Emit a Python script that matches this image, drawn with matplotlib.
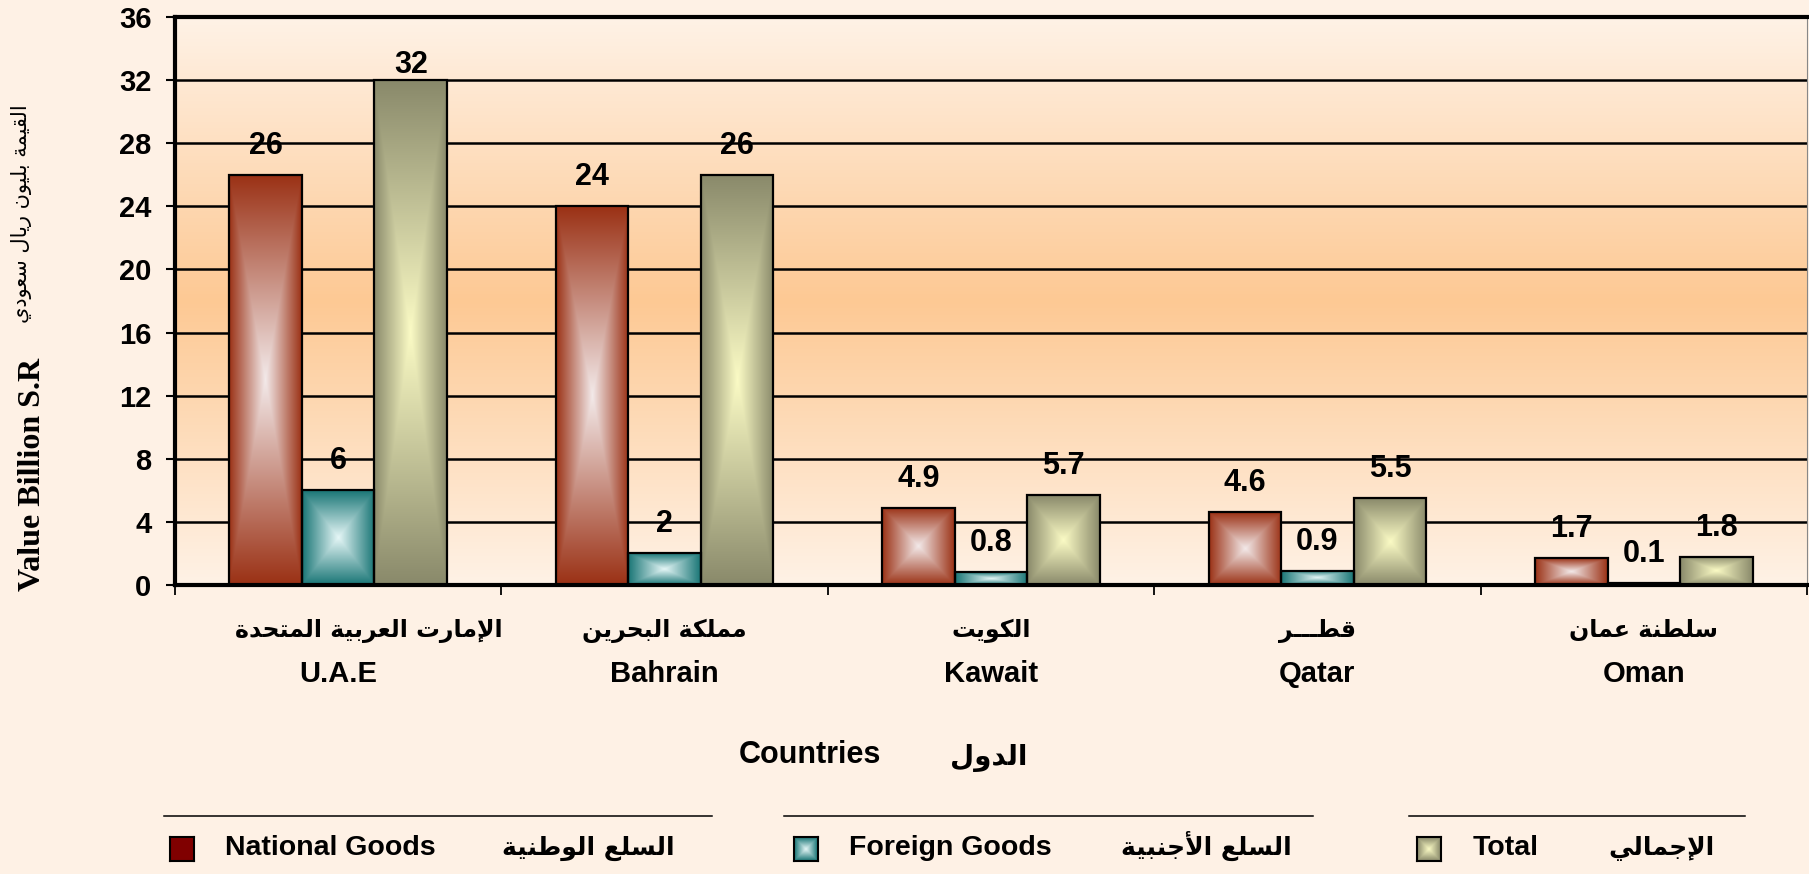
import numpy as np
import matplotlib
matplotlib.use("Agg")
import matplotlib.pyplot as plt
import matplotlib.transforms as mtransforms

# ---------------- data ----------------
categories_en = ['U.A.E', 'Bahrain', 'Kawait', 'Qatar', 'Oman']
categories_ar = ['الإمارت العربية المتحدة', 'مملكة البحرين', 'الكويت', 'قطـــر', 'سلطنة عمان']
national = [26, 24, 4.9, 4.6, 1.7]
foreign = [6, 2, 0.8, 0.9, 0.1]
total = [32, 26, 5.7, 5.5, 1.8]
series_en = ['National Goods', 'Foreign Goods', 'Total']
series_ar = ['السلع الوطنية', 'السلع الأجنبية', 'الإجمالي']
y_ticks = [0, 4, 8, 12, 16, 20, 24, 28, 32, 36]
ylabel_en = 'Value Billion S.R'
ylabel_ar = 'القيمة بليون ريال سعودي'
xlabel_en = 'Countries'
xlabel_ar = 'الدول'

# ---------------- minimal Arabic shaping ----------------
FORMS = {
    '\u0627': ('\uFE8D', '\uFE8E', None, None),
    '\u0623': ('\uFE83', '\uFE84', None, None),
    '\u0625': ('\uFE87', '\uFE88', None, None),
    '\u0628': ('\uFE8F', '\uFE90', '\uFE91', '\uFE92'),
    '\u0629': ('\uFE93', '\uFE94', None, None),
    '\u062A': ('\uFE95', '\uFE96', '\uFE97', '\uFE98'),
    '\u062C': ('\uFE9D', '\uFE9E', '\uFE9F', '\uFEA0'),
    '\u062D': ('\uFEA1', '\uFEA2', '\uFEA3', '\uFEA4'),
    '\u062F': ('\uFEA9', '\uFEAA', None, None),
    '\u0631': ('\uFEAD', '\uFEAE', None, None),
    '\u0633': ('\uFEB1', '\uFEB2', '\uFEB3', '\uFEB4'),
    '\u0637': ('\uFEC1', '\uFEC2', '\uFEC3', '\uFEC4'),
    '\u0639': ('\uFEC9', '\uFECA', '\uFECB', '\uFECC'),
    '\u0642': ('\uFED5', '\uFED6', '\uFED7', '\uFED8'),
    '\u0643': ('\uFED9', '\uFEDA', '\uFEDB', '\uFEDC'),
    '\u0644': ('\uFEDD', '\uFEDE', '\uFEDF', '\uFEE0'),
    '\u0645': ('\uFEE1', '\uFEE2', '\uFEE3', '\uFEE4'),
    '\u0646': ('\uFEE5', '\uFEE6', '\uFEE7', '\uFEE8'),
    '\u0648': ('\uFEED', '\uFEEE', None, None),
    '\u064A': ('\uFEF1', '\uFEF2', '\uFEF3', '\uFEF4'),
    '\u0640': ('\u0640', '\u0640', '\u0640', '\u0640'),
}
LAMALEF = {'\u0627': ('\uFEFB', '\uFEFC'),
           '\u0623': ('\uFEF7', '\uFEF8'),
           '\u0625': ('\uFEF9', '\uFEFA')}


def shape_ar(s):
    toks = []
    i = 0
    while i < len(s):
        c = s[i]
        if c == '\u0644' and i + 1 < len(s) and s[i + 1] in LAMALEF:
            toks.append(('LA', s[i + 1]))
            i += 2
        else:
            toks.append(('C', c))
            i += 1

    def is_ar(t):
        return t[0] == 'LA' or t[1] in FORMS

    def joins_next(t):
        if t[0] == 'LA':
            return False
        f = FORMS.get(t[1])
        return f is not None and f[2] is not None

    out = []
    for k, t in enumerate(toks):
        kind, c = t
        if not is_ar(t):
            out.append(c)
            continue
        prev_j = k > 0 and is_ar(toks[k - 1]) and joins_next(toks[k - 1])
        next_j = joins_next(t) and k + 1 < len(toks) and is_ar(toks[k + 1])
        if kind == 'LA':
            out.append(LAMALEF[c][1 if prev_j else 0])
        else:
            iso, fin, ini, med = FORMS[c]
            if prev_j and next_j:
                out.append(med)
            elif prev_j:
                out.append(fin)
            elif next_j:
                out.append(ini)
            else:
                out.append(iso)
    return ''.join(reversed(out))


# ---------------- styling ----------------
W, H = 1809, 874
BG = '#FEF1E5'
LAT = ['Liberation Sans', 'DejaVu Sans']
SERIF = ['Liberation Serif', 'DejaVu Serif']
AR = ['DejaVu Sans']
series_colors = [('#F3EAEA', '#9B3216'), ('#E6F7F7', '#1A7676'), ('#FBFBC5', '#8A8A6B')]


def fx(x):
    return x / W


def fy(y):
    return 1 - y / H


def grad_img(center, edge, n=101):
    c = np.array(matplotlib.colors.to_rgb(center))
    e = np.array(matplotlib.colors.to_rgb(edge))
    u = np.linspace(-1, 1, n)
    U, V = np.meshgrid(u, u)
    T = np.maximum(np.abs(U), np.abs(V))[..., None]
    return c * (1 - T) + e * T


fig = plt.figure(figsize=(W / 100, H / 100), dpi=100)
fig.patch.set_facecolor(BG)
ax = fig.add_axes([fx(175), fy(585), fx(1807) - fx(175), fy(17) - fy(585)])

# plot-area vertical gradient background
light = np.array(matplotlib.colors.to_rgb('#FFF2E6'))
peach = np.array(matplotlib.colors.to_rgb('#FDC994'))
yy = np.linspace(-1, 1, 256)
f = (1 - np.abs(yy))[:, None, None]
bg = light * (1 - f) + peach * f
ax.imshow(bg, extent=[0, 1, 0, 1], transform=ax.transAxes, aspect='auto',
          zorder=0, interpolation='bilinear')

x = np.arange(len(categories_en))
bw = 1 / 4.5
all_series = [national, foreign, total]
for si, vals in enumerate(all_series):
    bars = ax.bar(x + (si - 1) * bw, vals, width=bw, facecolor='none',
                  edgecolor='black', linewidth=1.6, zorder=3)
    img = grad_img(*series_colors[si])
    for r, v in zip(bars.patches, vals):
        x0, w0, h0 = r.get_x(), r.get_width(), r.get_height()
        im = ax.imshow(img, extent=[x0, x0 + w0, 0, h0], aspect='auto',
                       zorder=2, interpolation='bilinear')
        im.set_clip_path(r)
        off = 7 if v == max(total) else 21
        ax.annotate(f'{v:g}', (x0 + w0 / 2, h0), xytext=(0, off * 0.72),
                    textcoords='offset points', ha='center', va='baseline',
                    fontsize=22, fontweight='bold', family=LAT, zorder=5)

ax.set_xlim(-0.5, len(categories_en) - 0.5)
ax.set_ylim(0, 36)
ax.set_yticks(y_ticks)
ax.set_yticklabels([str(t) for t in y_ticks], fontsize=21, fontweight='bold', family=LAT)
ax.set_xticks([])
ax.set_xticks(np.arange(-0.5, len(categories_en), 1), minor=True)
ax.tick_params(axis='x', which='minor', length=7.5, width=1.3, direction='out', labelbottom=False)
ax.tick_params(axis='y', length=6.5, width=1.5, pad=10.5)
ax.set_axisbelow(True)
ax.yaxis.grid(True, color='black', linewidth=1.8)
ax.set_facecolor('none')
for sp in ['left', 'bottom', 'top']:
    ax.spines[sp].set_linewidth(3.0)
ax.spines['right'].set_linewidth(0.8)
ax.spines['right'].set_color('#888888')

# category labels
blend = mtransforms.blended_transform_factory(ax.transData, fig.transFigure)
for i, (en, ar) in enumerate(zip(categories_en, categories_ar)):
    dx = 0.095 if i == 0 else 0.0
    ax.text(i + dx, fy(637), shape_ar(ar), transform=blend, ha='center', va='baseline',
            fontsize=17, fontweight='bold', family=AR)
    ax.text(i, fy(682), en, transform=blend, ha='center', va='baseline',
            fontsize=21, fontweight='bold', family=LAT)

# axis titles
fig.text(fx(810), fy(763), xlabel_en, ha='center', va='baseline', fontsize=22,
         fontweight='bold', family=LAT)
fig.text(fx(989), fy(765), shape_ar(xlabel_ar), ha='center', va='baseline', fontsize=20,
         fontweight='bold', family=AR)
fig.text(fx(33), fy(474), ylabel_en, rotation=90, ha='center', va='center', fontsize=23,
         fontweight='bold', family=SERIF)
fig.text(fx(22), fy(214), shape_ar(ylabel_ar), rotation=90, ha='center', va='center',
         fontsize=15, family=AR)

# legend (manual)
sep_lines = [(164, 712), (784, 1313), (1409, 1745)]
sw_x = [170, 794, 1417]
txt_x = [225, 849, 1473]
ar_cx = [588, 1206, 1661]
for k in range(3):
    x0, x1 = sep_lines[k]
    fig.add_artist(plt.Line2D([fx(x0), fx(x1)], [fy(816), fy(816)], color='black',
                              linewidth=1.1, transform=fig.transFigure))
    sax = fig.add_axes([fx(sw_x[k]), fy(861), fx(24), 24 / H])
    if k == 0:
        sax.imshow(np.ones((2, 2, 3)) * np.array(matplotlib.colors.to_rgb('#800000')),
                   aspect='auto')
    else:
        sax.imshow(grad_img(*series_colors[k], n=25), aspect='auto', interpolation='bilinear')
    sax.set_xticks([])
    sax.set_yticks([])
    for sp in sax.spines.values():
        sp.set_linewidth(1.5)
    fig.text(fx(txt_x[k]), fy(855), series_en[k], ha='left', va='baseline', fontsize=20.5,
             fontweight='bold', family=LAT)
    fig.text(fx(ar_cx[k]), fy(855), shape_ar(series_ar[k]), ha='center', va='baseline',
             fontsize=18, fontweight='bold', family=AR)

fig.savefig('out.png', dpi=100, facecolor=BG)
